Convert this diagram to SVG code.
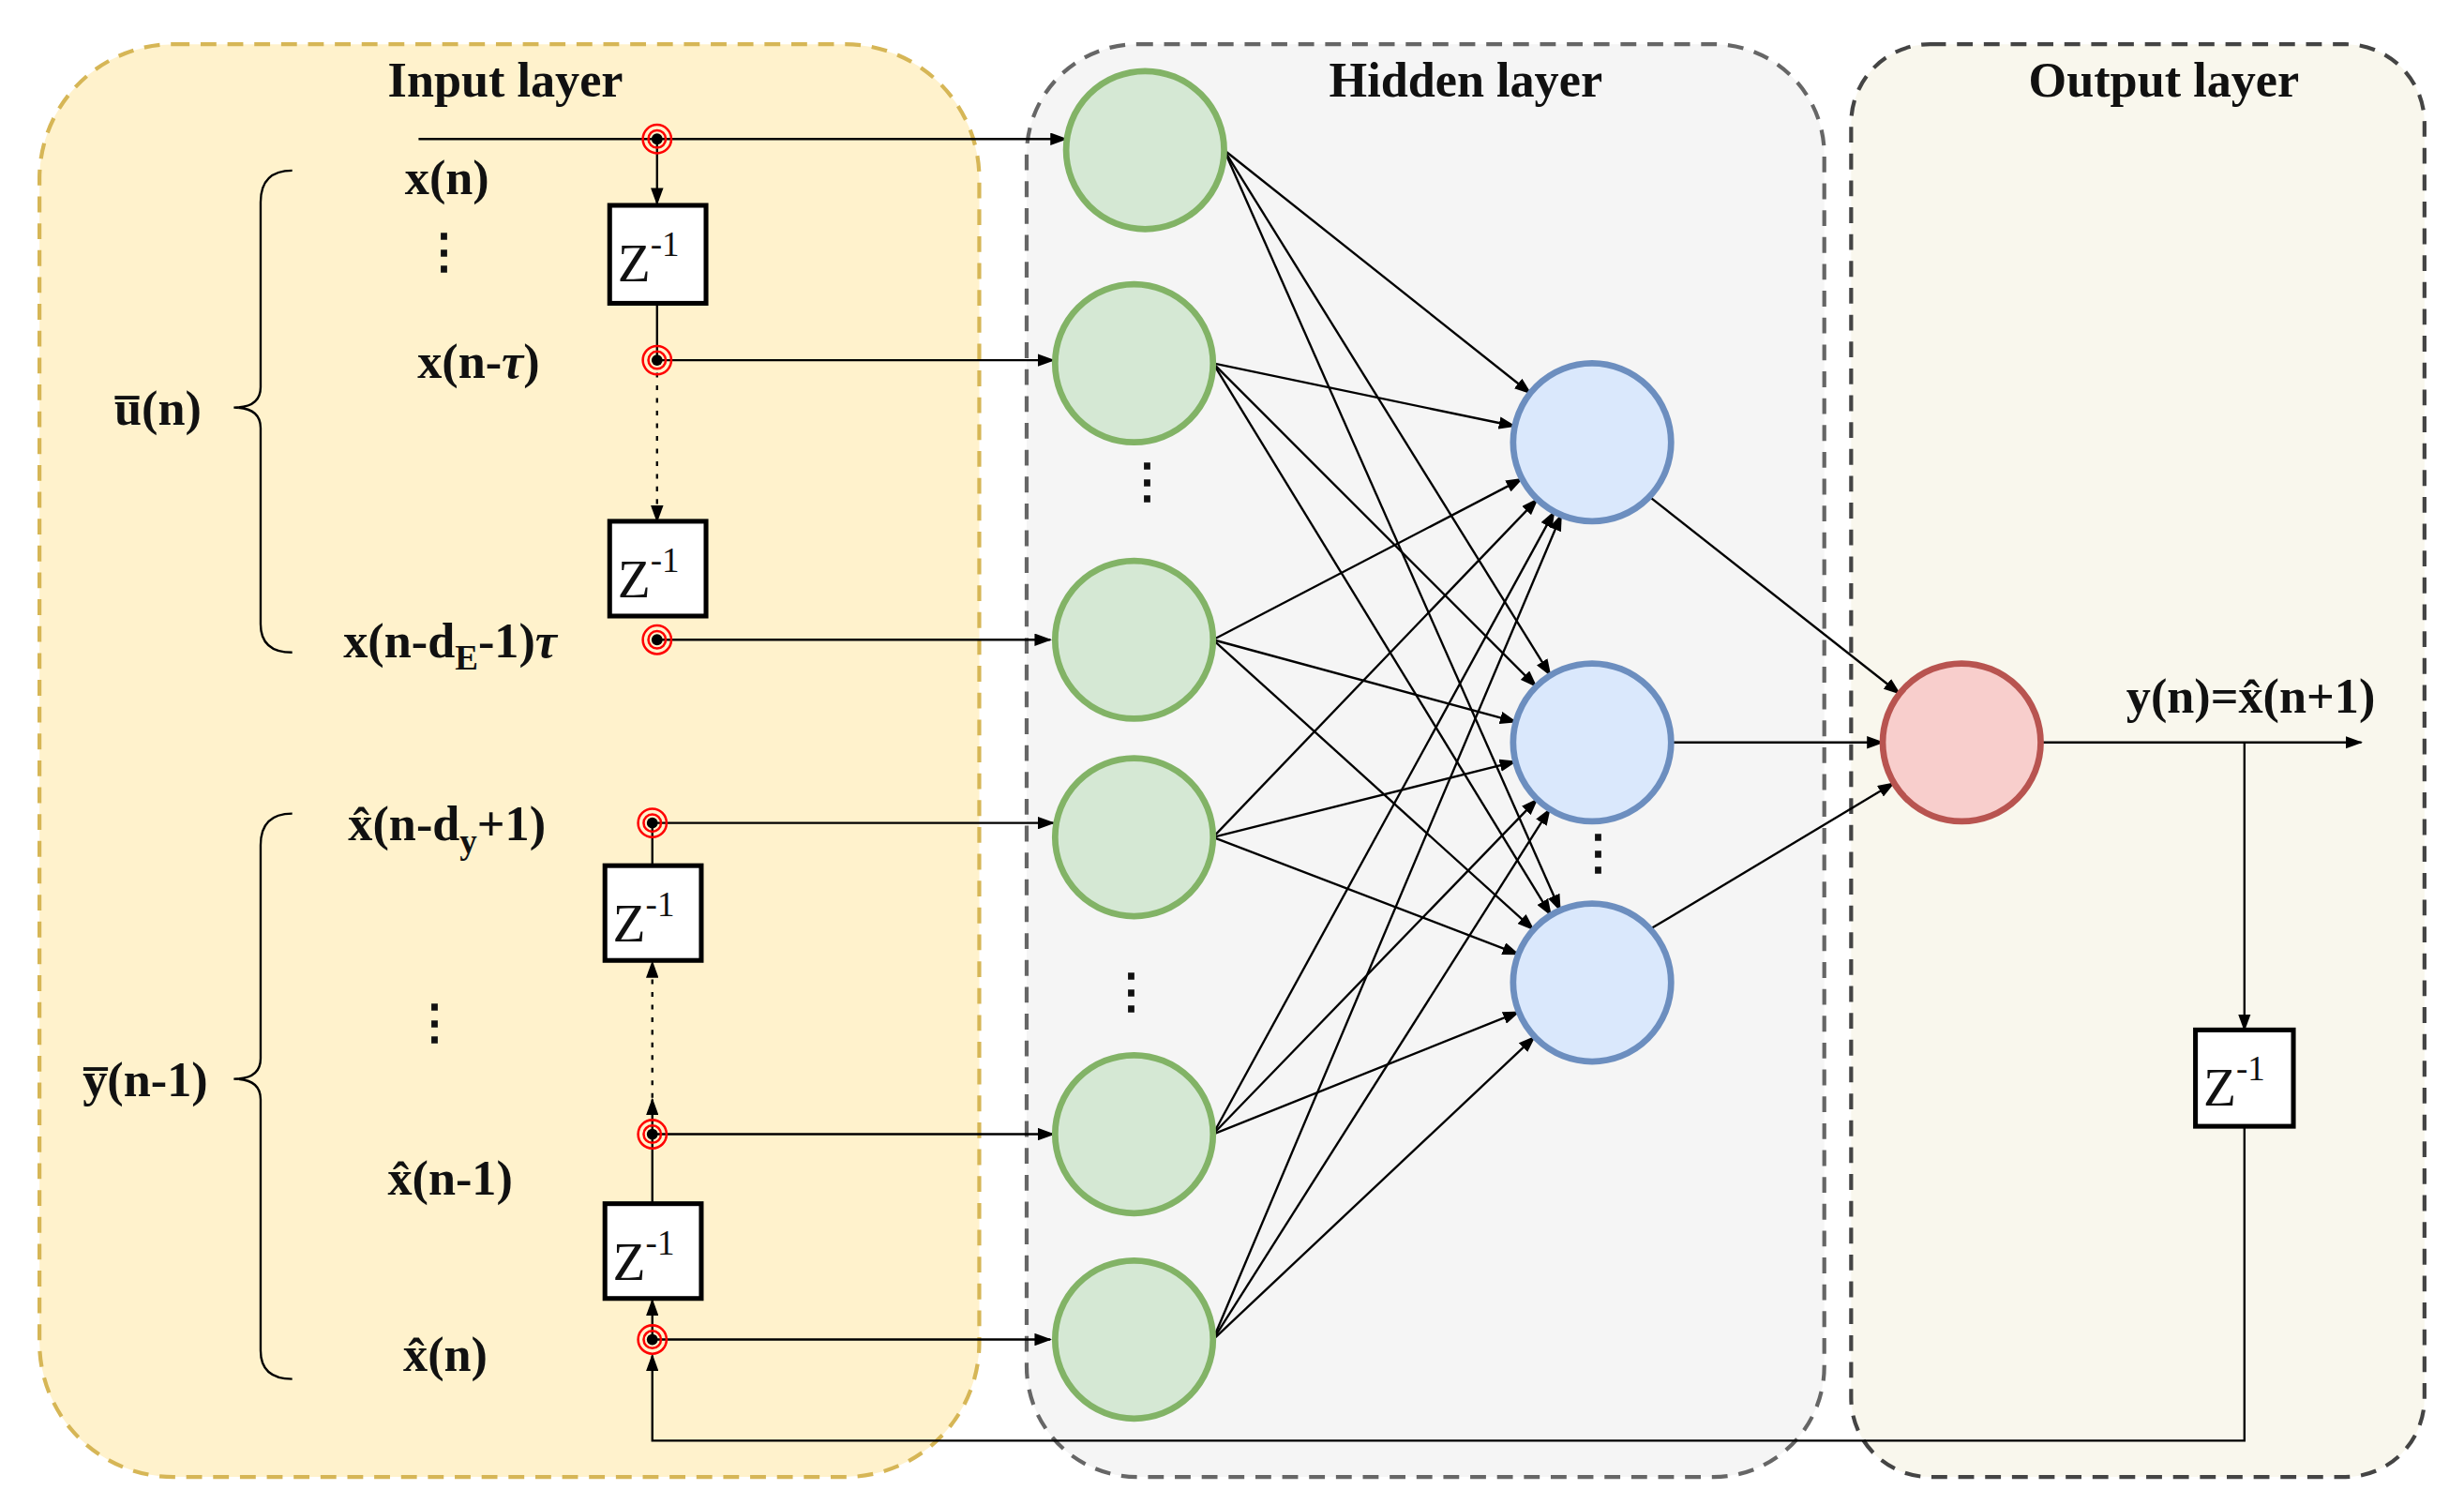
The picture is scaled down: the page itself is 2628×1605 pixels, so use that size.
<svg xmlns="http://www.w3.org/2000/svg" width="2628" height="1605" viewBox="0 0 2628 1605">
<defs>
<marker id="a" markerWidth="11" markerHeight="8" refX="10" refY="4" orient="auto" markerUnits="userSpaceOnUse"><path d="M0,0 L11,4 L0,8 z" fill="#000"/></marker>
<style>
.t{font-family:"Liberation Serif",serif;font-weight:bold;font-size:31px;fill:#111}
.z{font-family:"Liberation Serif",serif;font-size:34px;fill:#111}
.c{stroke:#000;stroke-width:1.4;fill:none}
.g{fill:#d5e8d4;stroke:#82b366;stroke-width:4}
.b{fill:#dae8fc;stroke:#6c8ebf;stroke-width:4}
.zb{fill:#fff;stroke:#000;stroke-width:3}
.dots{font-family:"Liberation Serif",serif;font-weight:bold;font-size:30px;fill:#111}
</style>
</defs>
<rect width="2628" height="1605" fill="#fff"/>
<g transform="scale(1.6846)">
<g id="input-layer"><rect x="25" y="28" width="595" height="907" rx="85" fill="#fff2cc" stroke="#d6b656" stroke-width="2.5" stroke-dasharray="10,7"/><text class="t" x="320" y="61" text-anchor="middle">Input layer</text></g>
<g id="hidden-layer"><rect x="650" y="28" width="505" height="907" rx="70" fill="#f5f5f5" stroke="#666" stroke-width="2.5" stroke-dasharray="10,7"/><text class="t" x="928" y="61" text-anchor="middle">Hidden layer</text></g>
<g id="output-layer"><rect x="1172" y="28" width="363" height="907" rx="50" fill="#f9f7ed" stroke="#444" stroke-width="2.5" stroke-dasharray="10,7"/><text class="t" x="1370" y="61" text-anchor="middle">Output layer</text></g>

<g id="connectors" class="c">
<path d="M265,88 H675" marker-end="url(#a)"/>
<path d="M416,88 V129" marker-end="url(#a)"/>
<path d="M416,192 V228"/>
<path d="M416,228 V330" stroke-dasharray="3,5" marker-end="url(#a)"/>
<path d="M416,228 H667" marker-end="url(#a)"/>
<path d="M416,405 H665" marker-end="url(#a)"/>
<path d="M413,521 H667" marker-end="url(#a)"/>
<path d="M413,521 V548"/>
<path d="M413,695 V609" stroke-dasharray="3,5" marker-end="url(#a)"/>
<path d="M413,718 V696" marker-end="url(#a)"/>
<path d="M413,718 H667" marker-end="url(#a)"/>
<path d="M413,718 V762"/>
<path d="M413,848 V823" marker-end="url(#a)"/>
<path d="M413,848 H665" marker-end="url(#a)"/>
<path d="M1421,713 V912 H413 V858" marker-end="url(#a)"/>
<path d="M1421,470 V652" marker-end="url(#a)"/>
<path d="M1292,470 H1495" marker-end="url(#a)"/>
<g marker-end="url(#a)">
<line x1="775" y1="95" x2="969" y2="249"/><line x1="775" y1="95" x2="981.6" y2="427.5"/><line x1="775" y1="95" x2="987.8" y2="576.3"/>
<line x1="768" y1="230" x2="959" y2="269.8"/><line x1="768" y1="230" x2="972.6" y2="434.6"/><line x1="768" y1="230" x2="981.9" y2="579.3"/>
<line x1="768" y1="405" x2="963.6" y2="303.1"/><line x1="768" y1="405" x2="959.7" y2="457"/><line x1="768" y1="405" x2="970.9" y2="588.5"/>
<line x1="768" y1="530" x2="973.4" y2="316"/><line x1="768" y1="530" x2="959.5" y2="482.1"/><line x1="768" y1="530" x2="961.3" y2="604.1"/>
<line x1="768" y1="718" x2="984" y2="323.9"/><line x1="768" y1="718" x2="973.2" y2="506"/><line x1="768" y1="718" x2="961.6" y2="640.6"/>
<line x1="768" y1="848" x2="988.5" y2="326"/><line x1="768" y1="848" x2="981.2" y2="512.2"/><line x1="768" y1="848" x2="971.6" y2="656.3"/>
<line x1="1045" y1="315" x2="1202.7" y2="439.1"/><line x1="1058" y1="470" x2="1192" y2="470"/><line x1="1045" y1="588" x2="1199" y2="495.7"/>
</g>
<path d="M185,108 Q165,108 165,128 V245 Q165,258 148,258 Q165,258 165,271 V395 Q165,413 185,413"/>
<path d="M185,515 Q165,515 165,535 V670 Q165,683 148,683 Q165,683 165,696 V855 Q165,873 185,873"/>
</g>

<g id="taps">
<g id="tap1"><circle cx="416" cy="88" r="9" fill="none" stroke="#f00" stroke-width="1.5"/><circle cx="416" cy="88" r="5.5" fill="none" stroke="#f00" stroke-width="1.5"/><circle cx="416" cy="88" r="3.5"/></g>
<g id="tap2"><circle cx="416" cy="228" r="9" fill="none" stroke="#f00" stroke-width="1.5"/><circle cx="416" cy="228" r="5.5" fill="none" stroke="#f00" stroke-width="1.5"/><circle cx="416" cy="228" r="3.5"/></g>
<g id="tap3"><circle cx="416" cy="405" r="9" fill="none" stroke="#f00" stroke-width="1.5"/><circle cx="416" cy="405" r="5.5" fill="none" stroke="#f00" stroke-width="1.5"/><circle cx="416" cy="405" r="3.5"/></g>
<g id="tap4"><circle cx="413" cy="521" r="9" fill="none" stroke="#f00" stroke-width="1.5"/><circle cx="413" cy="521" r="5.5" fill="none" stroke="#f00" stroke-width="1.5"/><circle cx="413" cy="521" r="3.5"/></g>
<g id="tap5"><circle cx="413" cy="718" r="9" fill="none" stroke="#f00" stroke-width="1.5"/><circle cx="413" cy="718" r="5.5" fill="none" stroke="#f00" stroke-width="1.5"/><circle cx="413" cy="718" r="3.5"/></g>
<g id="tap6"><circle cx="413" cy="848" r="9" fill="none" stroke="#f00" stroke-width="1.5"/><circle cx="413" cy="848" r="5.5" fill="none" stroke="#f00" stroke-width="1.5"/><circle cx="413" cy="848" r="3.5"/></g>
</g>

<g id="z1"><rect class="zb" x="386" y="130" width="61" height="62"/><text class="z" x="391" y="178">Z<tspan font-size="22" dy="-16">-1</tspan></text></g>
<g id="z2"><rect class="zb" x="386" y="330" width="61" height="60"/><text class="z" x="391" y="378">Z<tspan font-size="22" dy="-16">-1</tspan></text></g>
<g id="z3"><rect class="zb" x="383" y="548" width="61" height="60"/><text class="z" x="388" y="596">Z<tspan font-size="22" dy="-16">-1</tspan></text></g>
<g id="z4"><rect class="zb" x="383" y="762" width="61" height="60"/><text class="z" x="388" y="810">Z<tspan font-size="22" dy="-16">-1</tspan></text></g>
<g id="z5"><rect class="zb" x="1390" y="652" width="62" height="61"/><text class="z" x="1395" y="700">Z<tspan font-size="22" dy="-16">-1</tspan></text></g>

<g id="labels" class="t">
<text x="283" y="123" text-anchor="middle">x(n)</text>
<text x="303" y="239" text-anchor="middle">x(n-<tspan font-style="italic">τ</tspan>)</text>
<text x="100" y="269" text-anchor="middle">u̅(n)</text>
<text x="285" y="416" text-anchor="middle">x(n-d<tspan font-size="22" dy="8">E</tspan><tspan dy="-8">-1)</tspan><tspan font-style="italic">τ</tspan></text>
<text x="283" y="532" text-anchor="middle">x̂(n-d<tspan font-size="22" dy="8">y</tspan><tspan dy="-8">+1)</tspan></text>
<text x="92" y="694" text-anchor="middle">y̅(n-1)</text>
<text x="285" y="756" text-anchor="middle">x̂(n-1)</text>
<text x="282" y="868" text-anchor="middle">x̂(n)</text>
<text x="1425" y="451" text-anchor="middle">y(n)=x̂(n+1)</text>
</g>
<g id="ellipses" class="dots" text-anchor="middle">
<text x="281" y="170">⋮</text><text x="275" y="658">⋮</text>
<text x="726" y="315">⋮</text><text x="716" y="638">⋮</text><text x="1012" y="550">⋮</text>
</g>

<g id="g1"><circle class="g" cx="725" cy="95" r="50"/></g>
<g id="g2"><circle class="g" cx="718" cy="230" r="50"/></g>
<g id="g3"><circle class="g" cx="718" cy="405" r="50"/></g>
<g id="g4"><circle class="g" cx="718" cy="530" r="50"/></g>
<g id="g5"><circle class="g" cx="718" cy="718" r="50"/></g>
<g id="g6"><circle class="g" cx="718" cy="848" r="50"/></g>
<g id="b1"><circle class="b" cx="1008" cy="280" r="50"/></g>
<g id="b2"><circle class="b" cx="1008" cy="470" r="50"/></g>
<g id="b3"><circle class="b" cx="1008" cy="622" r="50"/></g>
<g id="r1"><circle cx="1242" cy="470" r="50" fill="#f8cecc" stroke="#b85450" stroke-width="4"/></g>
</g>
</svg>
